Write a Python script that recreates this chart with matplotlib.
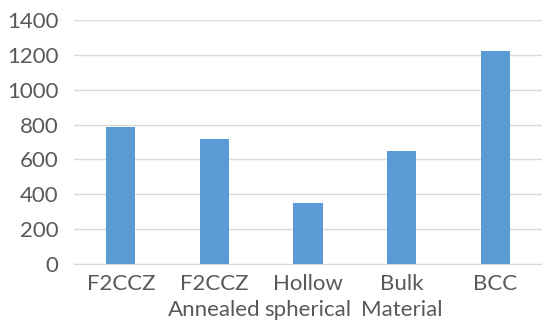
import numpy as np
import matplotlib.pyplot as plt

categories = ['F2CCZ', 'F2CCZ\nAnnealed', 'Hollow\nspherical', 'Bulk\nMaterial', 'BCC']
values = [785, 720, 350, 650, 1220]

plt.rcParams['font.family'] = ['Lato', 'DejaVu Sans']

fig = plt.figure(figsize=(5.42, 3.26), dpi=100)
ax = fig.add_axes([74 / 542, 62 / 326, 468 / 542, 244 / 326])

x = np.arange(len(categories))
ax.bar(x, values, width=0.31, color='#5b9bd5', zorder=3)

ax.set_xlim(-0.5, len(categories) - 0.5)
ax.set_ylim(0, 1400)
ax.set_yticks(np.arange(0, 1401, 200))
ax.set_xticks(x)
ax.set_xticklabels(categories, linespacing=1.4)

ax.grid(axis='y', color='#d9d9d9', linewidth=1, zorder=0)
for side in ['top', 'right', 'left']:
    ax.spines[side].set_visible(False)
ax.spines['bottom'].set_color('#d9d9d9')
ax.tick_params(axis='both', length=0, labelsize=16, labelcolor='#595959')
ax.tick_params(axis='y', pad=11)
ax.tick_params(axis='x', pad=7)

fig.savefig('out.png', dpi=100)
